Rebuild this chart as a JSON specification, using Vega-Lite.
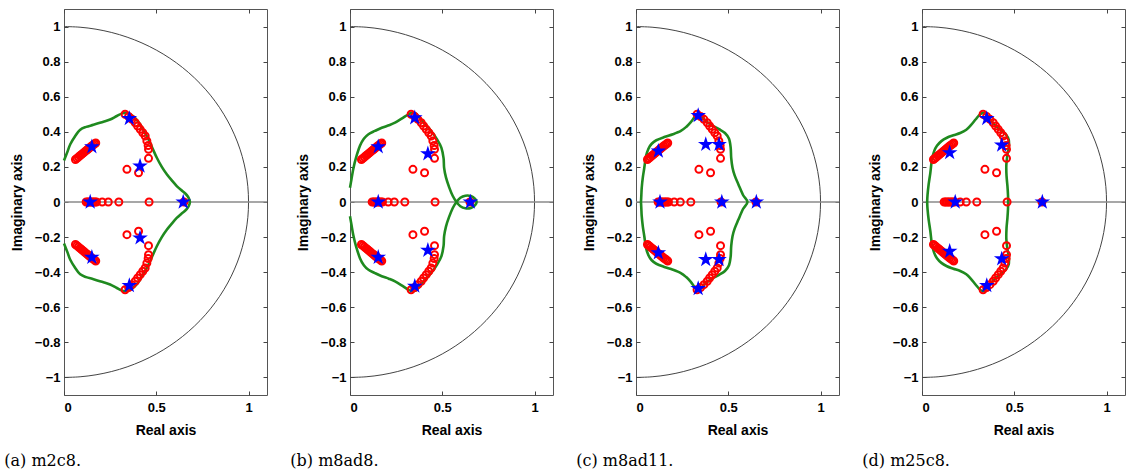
{
  "$schema": "https://vega.github.io/schema/vega-lite/v6.json",
  "padding": {"left": 3, "top": 8, "right": 0, "bottom": 0},
  "spacing": 20,
  "config": {
    "view": {"stroke": "#555", "strokeWidth": 1},
    "axis": {"grid": false, "domain": false, "labelFont": "Liberation Sans", "labelFontWeight": "bold", "labelFontSize": 13, "labelColor": "#000", "titleFont": "Liberation Sans", "titleFontWeight": "bold", "titleFontSize": 14, "titleColor": "#000", "tickColor": "#444", "tickSize": 4},
    "title": {"font": "DejaVu Serif", "fontSize": 16, "fontWeight": "normal", "color": "#000"}
  },
  "datasets": {
    "circle": [{"x":0,"y":-1},{"x":0.0872,"y":-0.9962},{"x":0.1736,"y":-0.9848},{"x":0.2588,"y":-0.9659},{"x":0.342,"y":-0.9397},{"x":0.4226,"y":-0.9063},{"x":0.5,"y":-0.866},{"x":0.5736,"y":-0.8192},{"x":0.6428,"y":-0.766},{"x":0.7071,"y":-0.7071},{"x":0.766,"y":-0.6428},{"x":0.8192,"y":-0.5736},{"x":0.866,"y":-0.5},{"x":0.9063,"y":-0.4226},{"x":0.9397,"y":-0.342},{"x":0.9659,"y":-0.2588},{"x":0.9848,"y":-0.1736},{"x":0.9962,"y":-0.0872},{"x":1,"y":0},{"x":0.9962,"y":0.0872},{"x":0.9848,"y":0.1736},{"x":0.9659,"y":0.2588},{"x":0.9397,"y":0.342},{"x":0.9063,"y":0.4226},{"x":0.866,"y":0.5},{"x":0.8192,"y":0.5736},{"x":0.766,"y":0.6428},{"x":0.7071,"y":0.7071},{"x":0.6428,"y":0.766},{"x":0.5736,"y":0.8192},{"x":0.5,"y":0.866},{"x":0.4226,"y":0.9063},{"x":0.342,"y":0.9397},{"x":0.2588,"y":0.9659},{"x":0.1736,"y":0.9848},{"x":0.0872,"y":0.9962},{"x":0,"y":1}],
    "axisline": [{"y": 0}],
    "zeros": [
      {"x":0.062,"y":0.242},{"x":0.07,"y":0.249},{"x":0.078,"y":0.256},{"x":0.086,"y":0.263},{"x":0.094,"y":0.27},{"x":0.102,"y":0.277},{"x":0.11,"y":0.284},{"x":0.118,"y":0.291},{"x":0.126,"y":0.298},{"x":0.134,"y":0.305},{"x":0.142,"y":0.312},{"x":0.15,"y":0.319},{"x":0.158,"y":0.325},{"x":0.166,"y":0.331},{"x":0.172,"y":0.336},
      {"x":0.062,"y":-0.242},{"x":0.07,"y":-0.249},{"x":0.078,"y":-0.256},{"x":0.086,"y":-0.263},{"x":0.094,"y":-0.27},{"x":0.102,"y":-0.277},{"x":0.11,"y":-0.284},{"x":0.118,"y":-0.291},{"x":0.126,"y":-0.298},{"x":0.134,"y":-0.305},{"x":0.142,"y":-0.312},{"x":0.15,"y":-0.319},{"x":0.158,"y":-0.325},{"x":0.166,"y":-0.331},{"x":0.172,"y":-0.336},
      {"x":0.331,"y":0.5},{"x":0.35,"y":0.487},{"x":0.368,"y":0.471},{"x":0.386,"y":0.452},{"x":0.399,"y":0.433},{"x":0.413,"y":0.414},{"x":0.427,"y":0.395},{"x":0.44,"y":0.376},{"x":0.449,"y":0.348},{"x":0.456,"y":0.322},{"x":0.458,"y":0.3},{"x":0.458,"y":0.249},
      {"x":0.331,"y":-0.5},{"x":0.35,"y":-0.487},{"x":0.368,"y":-0.471},{"x":0.386,"y":-0.452},{"x":0.399,"y":-0.433},{"x":0.413,"y":-0.414},{"x":0.427,"y":-0.395},{"x":0.44,"y":-0.376},{"x":0.449,"y":-0.348},{"x":0.456,"y":-0.322},{"x":0.458,"y":-0.3},{"x":0.458,"y":-0.249},
      {"x":0.341,"y":0.186},{"x":0.404,"y":0.167},{"x":0.341,"y":-0.186},{"x":0.404,"y":-0.167},
      {"x":0.12,"y":0},{"x":0.128,"y":0},{"x":0.136,"y":0},{"x":0.144,"y":0},{"x":0.152,"y":0},{"x":0.16,"y":0},{"x":0.168,"y":0},{"x":0.176,"y":0},{"x":0.207,"y":0},{"x":0.24,"y":0},{"x":0.297,"y":0},{"x":0.461,"y":0},{"x":0.65,"y":0}
    ],
    "curve_a": [
      {"x":0,"y":0.236},{"x":0.02,"y":0.29},{"x":0.034,"y":0.329},{"x":0.06,"y":0.375},{"x":0.088,"y":0.412},{"x":0.12,"y":0.428},{"x":0.16,"y":0.44},{"x":0.214,"y":0.457},{"x":0.25,"y":0.47},{"x":0.286,"y":0.49},{"x":0.315,"y":0.505},{"x":0.335,"y":0.508},{"x":0.36,"y":0.5},{"x":0.385,"y":0.48},{"x":0.412,"y":0.443},{"x":0.435,"y":0.4},{"x":0.458,"y":0.357},{"x":0.48,"y":0.305},{"x":0.503,"y":0.252},{"x":0.53,"y":0.2},{"x":0.557,"y":0.158},{"x":0.585,"y":0.122},{"x":0.611,"y":0.091},{"x":0.635,"y":0.068},{"x":0.656,"y":0.05},{"x":0.672,"y":0.03},{"x":0.68,"y":0.012},{"x":0.682,"y":0},
      {"x":0.68,"y":-0.012},{"x":0.672,"y":-0.03},{"x":0.656,"y":-0.05},{"x":0.635,"y":-0.068},{"x":0.611,"y":-0.091},{"x":0.585,"y":-0.122},{"x":0.557,"y":-0.158},{"x":0.53,"y":-0.2},{"x":0.503,"y":-0.252},{"x":0.48,"y":-0.305},{"x":0.458,"y":-0.357},{"x":0.435,"y":-0.4},{"x":0.412,"y":-0.443},{"x":0.385,"y":-0.48},{"x":0.36,"y":-0.5},{"x":0.335,"y":-0.508},{"x":0.315,"y":-0.505},{"x":0.286,"y":-0.49},{"x":0.25,"y":-0.47},{"x":0.214,"y":-0.457},{"x":0.16,"y":-0.44},{"x":0.12,"y":-0.428},{"x":0.088,"y":-0.412},{"x":0.06,"y":-0.375},{"x":0.034,"y":-0.329},{"x":0.02,"y":-0.29},{"x":0,"y":-0.236}
    ],
    "curve_b": [
      {"x":0,"y":0.081},{"x":0.008,"y":0.13},{"x":0.018,"y":0.19},{"x":0.032,"y":0.25},{"x":0.054,"y":0.32},{"x":0.075,"y":0.36},{"x":0.1,"y":0.386},{"x":0.135,"y":0.405},{"x":0.172,"y":0.423},{"x":0.21,"y":0.437},{"x":0.244,"y":0.452},{"x":0.28,"y":0.475},{"x":0.316,"y":0.5},{"x":0.335,"y":0.508},{"x":0.355,"y":0.505},{"x":0.376,"y":0.482},{"x":0.405,"y":0.445},{"x":0.44,"y":0.405},{"x":0.47,"y":0.36},{"x":0.495,"y":0.31},{"x":0.507,"y":0.25},{"x":0.51,"y":0.195},{"x":0.52,"y":0.14},{"x":0.537,"y":0.085},{"x":0.557,"y":0.034},{"x":0.577,"y":0},
      {"x":0.598,"y":-0.024},{"x":0.625,"y":-0.036},{"x":0.655,"y":-0.034},{"x":0.678,"y":-0.018},{"x":0.686,"y":0},{"x":0.678,"y":0.018},{"x":0.655,"y":0.034},{"x":0.625,"y":0.036},{"x":0.598,"y":0.024},{"x":0.577,"y":0},
      {"x":0.557,"y":-0.034},{"x":0.537,"y":-0.085},{"x":0.52,"y":-0.14},{"x":0.51,"y":-0.195},{"x":0.507,"y":-0.25},{"x":0.495,"y":-0.31},{"x":0.47,"y":-0.36},{"x":0.44,"y":-0.405},{"x":0.405,"y":-0.445},{"x":0.376,"y":-0.482},{"x":0.355,"y":-0.505},{"x":0.335,"y":-0.508},{"x":0.316,"y":-0.5},{"x":0.28,"y":-0.475},{"x":0.244,"y":-0.452},{"x":0.21,"y":-0.437},{"x":0.172,"y":-0.423},{"x":0.135,"y":-0.405},{"x":0.1,"y":-0.386},{"x":0.075,"y":-0.36},{"x":0.054,"y":-0.32},{"x":0.032,"y":-0.25},{"x":0.018,"y":-0.19},{"x":0.008,"y":-0.13},{"x":0,"y":-0.081}
    ],
    "curve_c": [
      {"x":0.027,"y":0},{"x":0.029,"y":0.04},{"x":0.031,"y":0.081},{"x":0.037,"y":0.14},{"x":0.045,"y":0.195},{"x":0.054,"y":0.26},{"x":0.068,"y":0.305},{"x":0.085,"y":0.332},{"x":0.11,"y":0.352},{"x":0.153,"y":0.37},{"x":0.2,"y":0.386},{"x":0.243,"y":0.405},{"x":0.272,"y":0.428},{"x":0.297,"y":0.455},{"x":0.32,"y":0.488},{"x":0.337,"y":0.503},{"x":0.355,"y":0.49},{"x":0.375,"y":0.465},{"x":0.41,"y":0.438},{"x":0.45,"y":0.415},{"x":0.482,"y":0.393},{"x":0.504,"y":0.36},{"x":0.513,"y":0.31},{"x":0.516,"y":0.25},{"x":0.523,"y":0.195},{"x":0.535,"y":0.15},{"x":0.555,"y":0.1},{"x":0.58,"y":0.04},{"x":0.604,"y":0},
      {"x":0.58,"y":-0.04},{"x":0.555,"y":-0.1},{"x":0.535,"y":-0.15},{"x":0.523,"y":-0.195},{"x":0.516,"y":-0.25},{"x":0.513,"y":-0.31},{"x":0.504,"y":-0.36},{"x":0.482,"y":-0.393},{"x":0.45,"y":-0.415},{"x":0.41,"y":-0.438},{"x":0.375,"y":-0.465},{"x":0.355,"y":-0.49},{"x":0.337,"y":-0.503},{"x":0.32,"y":-0.488},{"x":0.297,"y":-0.455},{"x":0.272,"y":-0.428},{"x":0.243,"y":-0.405},{"x":0.2,"y":-0.386},{"x":0.153,"y":-0.37},{"x":0.11,"y":-0.352},{"x":0.085,"y":-0.332},{"x":0.068,"y":-0.305},{"x":0.054,"y":-0.26},{"x":0.045,"y":-0.195},{"x":0.037,"y":-0.14},{"x":0.031,"y":-0.081},{"x":0.029,"y":-0.04},{"x":0.027,"y":0}
    ],
    "curve_d": [
      {"x":0.028,"y":0},{"x":0.03,"y":0.04},{"x":0.036,"y":0.1},{"x":0.045,"y":0.165},{"x":0.054,"y":0.243},{"x":0.066,"y":0.29},{"x":0.081,"y":0.32},{"x":0.105,"y":0.347},{"x":0.135,"y":0.366},{"x":0.17,"y":0.38},{"x":0.207,"y":0.393},{"x":0.24,"y":0.412},{"x":0.265,"y":0.438},{"x":0.29,"y":0.47},{"x":0.31,"y":0.495},{"x":0.33,"y":0.508},{"x":0.345,"y":0.5},{"x":0.37,"y":0.465},{"x":0.4,"y":0.435},{"x":0.43,"y":0.408},{"x":0.455,"y":0.385},{"x":0.47,"y":0.355},{"x":0.47,"y":0.31},{"x":0.463,"y":0.27},{"x":0.457,"y":0.21},{"x":0.458,"y":0.15},{"x":0.463,"y":0.09},{"x":0.466,"y":0.04},{"x":0.467,"y":0},
      {"x":0.466,"y":-0.04},{"x":0.463,"y":-0.09},{"x":0.458,"y":-0.15},{"x":0.457,"y":-0.21},{"x":0.463,"y":-0.27},{"x":0.47,"y":-0.31},{"x":0.47,"y":-0.355},{"x":0.455,"y":-0.385},{"x":0.43,"y":-0.408},{"x":0.4,"y":-0.435},{"x":0.37,"y":-0.465},{"x":0.345,"y":-0.5},{"x":0.33,"y":-0.508},{"x":0.31,"y":-0.495},{"x":0.29,"y":-0.47},{"x":0.265,"y":-0.438},{"x":0.24,"y":-0.412},{"x":0.207,"y":-0.393},{"x":0.17,"y":-0.38},{"x":0.135,"y":-0.366},{"x":0.105,"y":-0.347},{"x":0.081,"y":-0.32},{"x":0.066,"y":-0.29},{"x":0.054,"y":-0.243},{"x":0.045,"y":-0.165},{"x":0.036,"y":-0.1},{"x":0.03,"y":-0.04},{"x":0.028,"y":0}
    ],
    "stars_a": [{"x":0.354,"y":0.476},{"x":0.151,"y":0.315},{"x":0.412,"y":0.205},{"x":0.142,"y":0},{"x":0.646,"y":0},{"x":0.354,"y":-0.476},{"x":0.151,"y":-0.315},{"x":0.412,"y":-0.205}],
    "stars_b": [{"x":0.351,"y":0.48},{"x":0.153,"y":0.315},{"x":0.422,"y":0.275},{"x":0.153,"y":0},{"x":0.652,"y":0},{"x":0.351,"y":-0.48},{"x":0.153,"y":-0.315},{"x":0.422,"y":-0.275}],
    "stars_c": [{"x":0.337,"y":0.493},{"x":0.121,"y":0.29},{"x":0.378,"y":0.328},{"x":0.45,"y":0.328},{"x":0.13,"y":0},{"x":0.465,"y":0},{"x":0.652,"y":0},{"x":0.337,"y":-0.493},{"x":0.121,"y":-0.29},{"x":0.378,"y":-0.328},{"x":0.45,"y":-0.328}],
    "stars_d": [{"x":0.351,"y":0.476},{"x":0.15,"y":0.281},{"x":0.432,"y":0.324},{"x":0.18,"y":0},{"x":0.652,"y":0},{"x":0.351,"y":-0.476},{"x":0.15,"y":-0.281},{"x":0.432,"y":-0.324}]
  },
  "hconcat": [
    {
      "width": 203, "height": 386,
      "title": {"text": "(a) m2c8.", "orient": "bottom", "anchor": "start", "frame": "bounds", "offset": 16, "dx": -6},
      "resolve": {"axis": {"x": "independent", "y": "independent"}},
      "layer": [
        {"data": {"name": "circle"}, "mark": {"type": "line", "color": "#444", "strokeWidth": 1, "interpolate": "cardinal"},
         "encoding": {
           "x": {"field": "x", "type": "quantitative", "scale": {"domain": [0, 1.1], "nice": false, "zero": false}, "axis": {"title": "Real axis", "values": [0, 0.5, 1], "format": "~g", "orient": "bottom", "ticks": false, "labelPadding": 6, "titlePadding": 9}},
           "y": {"field": "y", "type": "quantitative", "scale": {"domain": [-1.1, 1.1], "nice": false, "zero": false}, "axis": {"title": "Imaginary axis", "values": [-1, -0.8, -0.6, -0.4, -0.2, 0, 0.2, 0.4, 0.6, 0.8, 1], "format": "~g", "orient": "left", "ticks": false, "labelPadding": 4, "titlePadding": 10}},
           "order": {"value": null}}},
        {"data": {"name": "axisline"}, "mark": {"type": "rule", "color": "#8a8a8a", "strokeWidth": 1.6},
         "encoding": {"y": {"field": "y", "type": "quantitative", "axis": {"orient": "right", "offset": -4, "labels": false, "title": null, "values": [-1, -0.8, -0.6, -0.4, -0.2, 0, 0.2, 0.4, 0.6, 0.8, 1]}}}},
        {"data": {"name": "curve_a"}, "mark": {"type": "line", "color": "#1f8a1f", "strokeWidth": 2.6, "interpolate": "cardinal"},
         "encoding": {"x": {"field": "x", "type": "quantitative", "axis": {"orient": "top", "offset": -4, "labels": false, "title": null, "values": [0, 0.5, 1]}}, "y": {"field": "y", "type": "quantitative", "axis": null}, "order": {"value": null}}},
        {"data": {"name": "zeros"}, "mark": {"type": "point", "shape": "circle", "filled": false, "color": "#ff0000", "strokeWidth": 2, "size": 49, "opacity": 1},
         "encoding": {"x": {"field": "x", "type": "quantitative", "axis": {"orient": "bottom", "offset": -4, "labels": false, "title": null, "values": [0, 0.5, 1]}}, "y": {"field": "y", "type": "quantitative", "axis": {"orient": "left", "offset": -4, "labels": false, "title": null, "values": [-1, -0.8, -0.6, -0.4, -0.2, 0, 0.2, 0.4, 0.6, 0.8, 1]}}}},
        {"data": {"name": "stars_a"}, "mark": {"type": "point", "shape": "M0,-1L0.2245,-0.309L0.951,-0.309L0.3633,0.118L0.588,0.809L0,0.382L-0.588,0.809L-0.3633,0.118L-0.951,-0.309L-0.2245,-0.309Z", "filled": true, "color": "#0000ff", "size": 270, "opacity": 1},
         "encoding": {"x": {"field": "x", "type": "quantitative", "axis": null}, "y": {"field": "y", "type": "quantitative", "axis": null}}}
      ]
    },
    {
      "width": 203, "height": 386,
      "title": {"text": "(b) m8ad8.", "orient": "bottom", "anchor": "start", "frame": "bounds", "offset": 16, "dx": -6},
      "resolve": {"axis": {"x": "independent", "y": "independent"}},
      "layer": [
        {"data": {"name": "circle"}, "mark": {"type": "line", "color": "#444", "strokeWidth": 1, "interpolate": "cardinal"},
         "encoding": {
           "x": {"field": "x", "type": "quantitative", "scale": {"domain": [0, 1.1], "nice": false, "zero": false}, "axis": {"title": "Real axis", "values": [0, 0.5, 1], "format": "~g", "orient": "bottom", "ticks": false, "labelPadding": 6, "titlePadding": 9}},
           "y": {"field": "y", "type": "quantitative", "scale": {"domain": [-1.1, 1.1], "nice": false, "zero": false}, "axis": {"title": "Imaginary axis", "values": [-1, -0.8, -0.6, -0.4, -0.2, 0, 0.2, 0.4, 0.6, 0.8, 1], "format": "~g", "orient": "left", "ticks": false, "labelPadding": 4, "titlePadding": 10}},
           "order": {"value": null}}},
        {"data": {"name": "axisline"}, "mark": {"type": "rule", "color": "#8a8a8a", "strokeWidth": 1.6},
         "encoding": {"y": {"field": "y", "type": "quantitative", "axis": {"orient": "right", "offset": -4, "labels": false, "title": null, "values": [-1, -0.8, -0.6, -0.4, -0.2, 0, 0.2, 0.4, 0.6, 0.8, 1]}}}},
        {"data": {"name": "curve_b"}, "mark": {"type": "line", "color": "#1f8a1f", "strokeWidth": 2.6, "interpolate": "cardinal"},
         "encoding": {"x": {"field": "x", "type": "quantitative", "axis": {"orient": "top", "offset": -4, "labels": false, "title": null, "values": [0, 0.5, 1]}}, "y": {"field": "y", "type": "quantitative", "axis": null}, "order": {"value": null}}},
        {"data": {"name": "zeros"}, "mark": {"type": "point", "shape": "circle", "filled": false, "color": "#ff0000", "strokeWidth": 2, "size": 49, "opacity": 1},
         "encoding": {"x": {"field": "x", "type": "quantitative", "axis": {"orient": "bottom", "offset": -4, "labels": false, "title": null, "values": [0, 0.5, 1]}}, "y": {"field": "y", "type": "quantitative", "axis": {"orient": "left", "offset": -4, "labels": false, "title": null, "values": [-1, -0.8, -0.6, -0.4, -0.2, 0, 0.2, 0.4, 0.6, 0.8, 1]}}}},
        {"data": {"name": "stars_b"}, "mark": {"type": "point", "shape": "M0,-1L0.2245,-0.309L0.951,-0.309L0.3633,0.118L0.588,0.809L0,0.382L-0.588,0.809L-0.3633,0.118L-0.951,-0.309L-0.2245,-0.309Z", "filled": true, "color": "#0000ff", "size": 270, "opacity": 1},
         "encoding": {"x": {"field": "x", "type": "quantitative", "axis": null}, "y": {"field": "y", "type": "quantitative", "axis": null}}}
      ]
    },
    {
      "width": 203, "height": 386,
      "title": {"text": "(c) m8ad11.", "orient": "bottom", "anchor": "start", "frame": "bounds", "offset": 16, "dx": -6},
      "resolve": {"axis": {"x": "independent", "y": "independent"}},
      "layer": [
        {"data": {"name": "circle"}, "mark": {"type": "line", "color": "#444", "strokeWidth": 1, "interpolate": "cardinal"},
         "encoding": {
           "x": {"field": "x", "type": "quantitative", "scale": {"domain": [0, 1.1], "nice": false, "zero": false}, "axis": {"title": "Real axis", "values": [0, 0.5, 1], "format": "~g", "orient": "bottom", "ticks": false, "labelPadding": 6, "titlePadding": 9}},
           "y": {"field": "y", "type": "quantitative", "scale": {"domain": [-1.1, 1.1], "nice": false, "zero": false}, "axis": {"title": "Imaginary axis", "values": [-1, -0.8, -0.6, -0.4, -0.2, 0, 0.2, 0.4, 0.6, 0.8, 1], "format": "~g", "orient": "left", "ticks": false, "labelPadding": 4, "titlePadding": 10}},
           "order": {"value": null}}},
        {"data": {"name": "axisline"}, "mark": {"type": "rule", "color": "#8a8a8a", "strokeWidth": 1.6},
         "encoding": {"y": {"field": "y", "type": "quantitative", "axis": {"orient": "right", "offset": -4, "labels": false, "title": null, "values": [-1, -0.8, -0.6, -0.4, -0.2, 0, 0.2, 0.4, 0.6, 0.8, 1]}}}},
        {"data": {"name": "curve_c"}, "mark": {"type": "line", "color": "#1f8a1f", "strokeWidth": 2.6, "interpolate": "cardinal"},
         "encoding": {"x": {"field": "x", "type": "quantitative", "axis": {"orient": "top", "offset": -4, "labels": false, "title": null, "values": [0, 0.5, 1]}}, "y": {"field": "y", "type": "quantitative", "axis": null}, "order": {"value": null}}},
        {"data": {"name": "zeros"}, "mark": {"type": "point", "shape": "circle", "filled": false, "color": "#ff0000", "strokeWidth": 2, "size": 49, "opacity": 1},
         "encoding": {"x": {"field": "x", "type": "quantitative", "axis": {"orient": "bottom", "offset": -4, "labels": false, "title": null, "values": [0, 0.5, 1]}}, "y": {"field": "y", "type": "quantitative", "axis": {"orient": "left", "offset": -4, "labels": false, "title": null, "values": [-1, -0.8, -0.6, -0.4, -0.2, 0, 0.2, 0.4, 0.6, 0.8, 1]}}}},
        {"data": {"name": "stars_c"}, "mark": {"type": "point", "shape": "M0,-1L0.2245,-0.309L0.951,-0.309L0.3633,0.118L0.588,0.809L0,0.382L-0.588,0.809L-0.3633,0.118L-0.951,-0.309L-0.2245,-0.309Z", "filled": true, "color": "#0000ff", "size": 270, "opacity": 1},
         "encoding": {"x": {"field": "x", "type": "quantitative", "axis": null}, "y": {"field": "y", "type": "quantitative", "axis": null}}}
      ]
    },
    {
      "width": 203, "height": 386,
      "title": {"text": "(d) m25c8.", "orient": "bottom", "anchor": "start", "frame": "bounds", "offset": 16, "dx": -6},
      "resolve": {"axis": {"x": "independent", "y": "independent"}},
      "layer": [
        {"data": {"name": "circle"}, "mark": {"type": "line", "color": "#444", "strokeWidth": 1, "interpolate": "cardinal"},
         "encoding": {
           "x": {"field": "x", "type": "quantitative", "scale": {"domain": [0, 1.1], "nice": false, "zero": false}, "axis": {"title": "Real axis", "values": [0, 0.5, 1], "format": "~g", "orient": "bottom", "ticks": false, "labelPadding": 6, "titlePadding": 9}},
           "y": {"field": "y", "type": "quantitative", "scale": {"domain": [-1.1, 1.1], "nice": false, "zero": false}, "axis": {"title": "Imaginary axis", "values": [-1, -0.8, -0.6, -0.4, -0.2, 0, 0.2, 0.4, 0.6, 0.8, 1], "format": "~g", "orient": "left", "ticks": false, "labelPadding": 4, "titlePadding": 10}},
           "order": {"value": null}}},
        {"data": {"name": "axisline"}, "mark": {"type": "rule", "color": "#8a8a8a", "strokeWidth": 1.6},
         "encoding": {"y": {"field": "y", "type": "quantitative", "axis": {"orient": "right", "offset": -4, "labels": false, "title": null, "values": [-1, -0.8, -0.6, -0.4, -0.2, 0, 0.2, 0.4, 0.6, 0.8, 1]}}}},
        {"data": {"name": "curve_d"}, "mark": {"type": "line", "color": "#1f8a1f", "strokeWidth": 2.6, "interpolate": "cardinal"},
         "encoding": {"x": {"field": "x", "type": "quantitative", "axis": {"orient": "top", "offset": -4, "labels": false, "title": null, "values": [0, 0.5, 1]}}, "y": {"field": "y", "type": "quantitative", "axis": null}, "order": {"value": null}}},
        {"data": {"name": "zeros"}, "mark": {"type": "point", "shape": "circle", "filled": false, "color": "#ff0000", "strokeWidth": 2, "size": 49, "opacity": 1},
         "encoding": {"x": {"field": "x", "type": "quantitative", "axis": {"orient": "bottom", "offset": -4, "labels": false, "title": null, "values": [0, 0.5, 1]}}, "y": {"field": "y", "type": "quantitative", "axis": {"orient": "left", "offset": -4, "labels": false, "title": null, "values": [-1, -0.8, -0.6, -0.4, -0.2, 0, 0.2, 0.4, 0.6, 0.8, 1]}}}},
        {"data": {"name": "stars_d"}, "mark": {"type": "point", "shape": "M0,-1L0.2245,-0.309L0.951,-0.309L0.3633,0.118L0.588,0.809L0,0.382L-0.588,0.809L-0.3633,0.118L-0.951,-0.309L-0.2245,-0.309Z", "filled": true, "color": "#0000ff", "size": 270, "opacity": 1},
         "encoding": {"x": {"field": "x", "type": "quantitative", "axis": null}, "y": {"field": "y", "type": "quantitative", "axis": null}}}
      ]
    }
  ]
}
